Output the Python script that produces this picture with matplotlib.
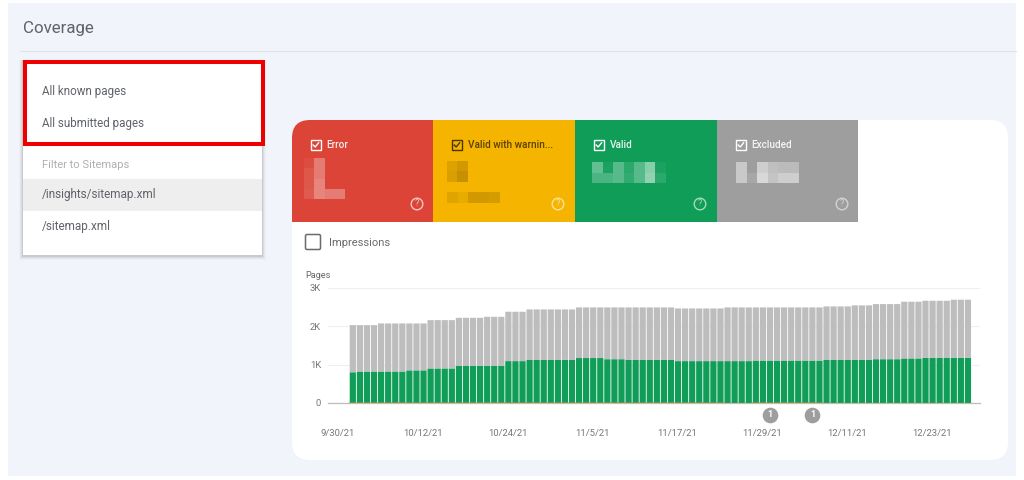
import matplotlib

matplotlib.use("Agg")
import matplotlib.pyplot as plt
from matplotlib.patches import Circle, FancyBboxPatch, Rectangle

plt.rcParams["font.family"] = ["Roboto", "DejaVu Sans"]

W, H = 1024, 480

# one value per day
valid = [
    800, 820, 820, 820, 820, 820, 820, 820, 850, 850, 850,
    900, 900, 900, 900, 970, 970, 970, 970, 970, 970, 970,
    1090, 1090, 1090, 1120, 1120, 1120, 1120, 1120, 1120, 1120,
    1170, 1170, 1170, 1170, 1140, 1140, 1140,
    1120, 1120, 1120, 1120, 1120, 1120, 1120,
    1090, 1090, 1090, 1090, 1090, 1090, 1090, 1090, 1090, 1090, 1090,
    1105, 1105, 1105, 1105, 1105, 1105, 1105, 1105, 1105, 1105,
    1120, 1120, 1120, 1120, 1120, 1120, 1120,
    1140, 1140, 1140, 1140, 1160, 1160, 1160,
    1180, 1180, 1180, 1180, 1180, 1180, 1180,
]
excluded = [
    1226, 1206, 1206, 1206, 1250, 1250, 1250, 1250, 1220, 1220, 1220,
    1256, 1256, 1256, 1256, 1247, 1247, 1247, 1247, 1273, 1273, 1273,
    1284, 1284, 1284, 1315, 1315, 1315, 1315, 1315, 1315, 1315,
    1317, 1317, 1317, 1317, 1347, 1347, 1347,
    1367, 1367, 1367, 1367, 1367, 1367, 1367,
    1370, 1370, 1370, 1370, 1370, 1370, 1370, 1397, 1397, 1397, 1397,
    1382, 1382, 1382, 1382, 1382, 1382, 1382, 1382, 1382, 1382,
    1393, 1393, 1393, 1393, 1420, 1420, 1420,
    1434, 1434, 1434, 1434, 1475, 1475, 1475,
    1480, 1480, 1480, 1480, 1507, 1507, 1507,
]
warnings = [15] * 53 + [5] * 4 + [15] * 10 + [5] * 21
tick_idx = [0, 12, 24, 36, 48, 60, 72, 84]
tick_labels = ["9/30/21", "10/12/21", "10/24/21", "11/5/21", "11/17/21", "11/29/21", "12/11/21", "12/23/21"]
y_ticks = [0, 1000, 2000, 3000]
y_labels = ["0", "1K", "2K", "3K"]
annotation_idx = [59, 65]
annotation_labels = ["1", "1"]

menu_items = ["All known pages", "All submitted pages"]
sitemaps = ["/insights/sitemap.xml", "/sitemap.xml"]
card_titles = ["Error", "Valid with warnin...", "Valid", "Excluded"]
card_colors = ["#DB4437", "#F4B400", "#0F9D58", "#9E9E9E"]

GREEN = "#0F9D58"
GREY = "#BDBDBD"
BAR_PX = 7.07
BAR_X0 = 349.3


def blocks(ax, x0, y0, cell, grid, color):
    # the blurred-out numbers on the score cards
    for r, row in enumerate(grid):
        for c, alpha in enumerate(row):
            if alpha > 0:
                ax.add_patch(Rectangle((x0 + c * cell, y0 + r * cell), cell, cell,
                                       fc=color, ec="none", alpha=alpha, zorder=4))


def checkbox(ax, x, y, color, size=9.5):
    ax.add_patch(Rectangle((x, y), size, size, fc="none", ec=color, lw=1.0, zorder=5))
    ax.plot([x + 2.2, x + 4.2, x + 7.6], [y + 5, y + 7, y + 2.8], color=color, lw=1.0, zorder=5)


fig = plt.figure(figsize=(W / 100, H / 100), dpi=100, facecolor="white")
bg = fig.add_axes([0, 0, 1, 1])
bg.set_xlim(0, W)
bg.set_ylim(H, 0)
bg.axis("off")

# page background and header
bg.add_patch(Rectangle((8, 3), 1008, 473, fc="#F1F4FB", ec="none"))
bg.text(23, 28, "Coverage", fontsize=12.2, color="#5F6368", va="center")
bg.plot([20, 1016], [50.5, 50.5], color="#DFE2E8", lw=0.8)

# dropdown with a soft shadow
for grow, alpha in ((4, 0.03), (3, 0.05), (2, 0.08), (1, 0.12)):
    bg.add_patch(Rectangle((23 - grow, 60), 239 + 2 * grow, 195 + grow + 1,
                           fc="#555555", ec="none", alpha=alpha))
bg.add_patch(Rectangle((23, 60), 239, 195, fc="white", ec="none"))
bg.add_patch(Rectangle((23, 178.5), 239, 32.5, fc="#EEEEEE", ec="none"))
for y, label in zip((92, 123.5), menu_items):
    bg.text(42, y, label, fontsize=8.4, color="#5F6368", va="center")
bg.text(42, 165.5, "Filter to Sitemaps", fontsize=8.0, color="#AFAFAF", va="center")
for y, label in zip((194.5, 226.5), sitemaps):
    bg.text(42, y, label, fontsize=8.5, color="#5F6368", va="center")
bg.add_patch(Rectangle((24.5, 62), 238.5, 81.5, fc="none", ec="#EE0000", lw=2.9, zorder=6))

# white chart card
card = FancyBboxPatch((292 + 18, 120 + 18), 716 - 36, 340 - 36, boxstyle="round,pad=18,rounding_size=18",
                      fc="white", ec="none")
bg.add_patch(card)

# score cards
edges = [292, 433, 575, 717, 858]
for i, (title, color) in enumerate(zip(card_titles, card_colors)):
    left = edges[i]
    tile = Rectangle((left, 120), edges[i + 1] - left, 101.5, fc=color, ec="none", zorder=3)
    bg.add_patch(tile)
    tile.set_clip_path(card)
    ink = "#4A3500" if i == 1 else "white"
    checkbox(bg, left + 19, 140, ink)
    bg.text(left + 34.5, 145, title, fontsize=7.2, color=ink, va="center", zorder=5, alpha=0.9, fontweight="medium")
    q_color = "#FBE29A" if i == 1 else "#F3C5C0" if i == 0 else "#A5D9BD" if i == 2 else "#D3D3D3"
    bg.add_patch(Circle((left + 125, 204), 5.8, fc="none", ec=q_color, lw=1.0, zorder=5))
    bg.text(left + 125, 204, "?", fontsize=6.5, color=q_color, ha="center", va="center", zorder=5)

blocks(bg, 304, 158, 10.3, [[0.05, 0.3, 0, 0], [0.1, 0.3, 0, 0], [0.1, 0.35, 0, 0], [0.12, 0.35, 0.3, 0.3]], "white")
blocks(bg, 447, 161, 10.4, [[0.3, 0.45], [0.35, 0.6]], "#A87800")
blocks(bg, 447, 192, 10.5, [[0.25, 0.15, 0.45, 0.45, 0.4]], "#A87800")
blocks(bg, 592, 162, 10.5, [[0.35, 0.05, 0.3, 0.12, 0.3, 0.5, 0.05], [0.25, 0.25, 0.3, 0.15, 0.3, 0.55, 0.12]], "white")
blocks(bg, 736, 162, 10.5, [[0.45, 0, 0.5, 0.35, 0.3, 0.3], [0.45, 0.1, 0.6, 0.4, 0.5, 0.5]], "white")

# impressions toggle
bg.add_patch(FancyBboxPatch((306, 235), 14, 14, boxstyle="round,pad=0.5,rounding_size=1.5",
                            fc="white", ec="#6B6B6B", lw=1.1))
bg.text(328.5, 243.5, "Impressions", fontsize=8.0, color="#6B6B6B", va="center")
bg.text(305, 275, "Pages", fontsize=6.6, color="#666666", va="center")

# bar chart, placed in pixel coordinates of the picture
px_left, px_right, px_top, px_bottom = 328, 980, 287.7, 403
ax = fig.add_axes([px_left / W, 1 - px_bottom / H, (px_right - px_left) / W, (px_bottom - px_top) / H])
ax.patch.set_alpha(0)
ax.set_xlim((px_left - BAR_X0) / BAR_PX - 0.5, (px_right - BAR_X0) / BAR_PX - 0.5)
ax.set_ylim(0, 3000)

# snap off so the thin gaps between bars stay even
days = list(range(len(valid)))
ax.bar(days, valid, width=0.88, color=GREEN, zorder=3, snap=False)
ax.bar(days, excluded, width=0.88, bottom=valid, color=GREY, zorder=3, snap=False)
ax.bar(days, warnings, width=1.0, color="#C98A1B", zorder=4, snap=False)

ax.set_yticks(y_ticks, y_labels)
# date labels sit about two bars left of the day they name
ax.set_xticks([i - 2.1 for i in tick_idx], tick_labels)
ax.tick_params(axis="both", length=0, labelsize=6.8, labelcolor="#777777")
ax.tick_params(axis="x", pad=19)
ax.tick_params(axis="y", pad=5)
ax.grid(axis="y", color="#EFEFEF", lw=0.8, zorder=0)
for side in ("top", "right", "left"):
    ax.spines[side].set_visible(False)
ax.spines["bottom"].set_color("#BDBDBD")
ax.spines["bottom"].set_linewidth(0.9)

ax.scatter(annotation_idx, [-310] * len(annotation_idx), s=105, color="#9E9E9E", clip_on=False, zorder=5)
for i, label in zip(annotation_idx, annotation_labels):
    ax.text(i, -310, label, fontsize=6.5, color="white", ha="center", va="center", fontweight="bold", zorder=6)

fig.savefig("out.png", dpi=100)
